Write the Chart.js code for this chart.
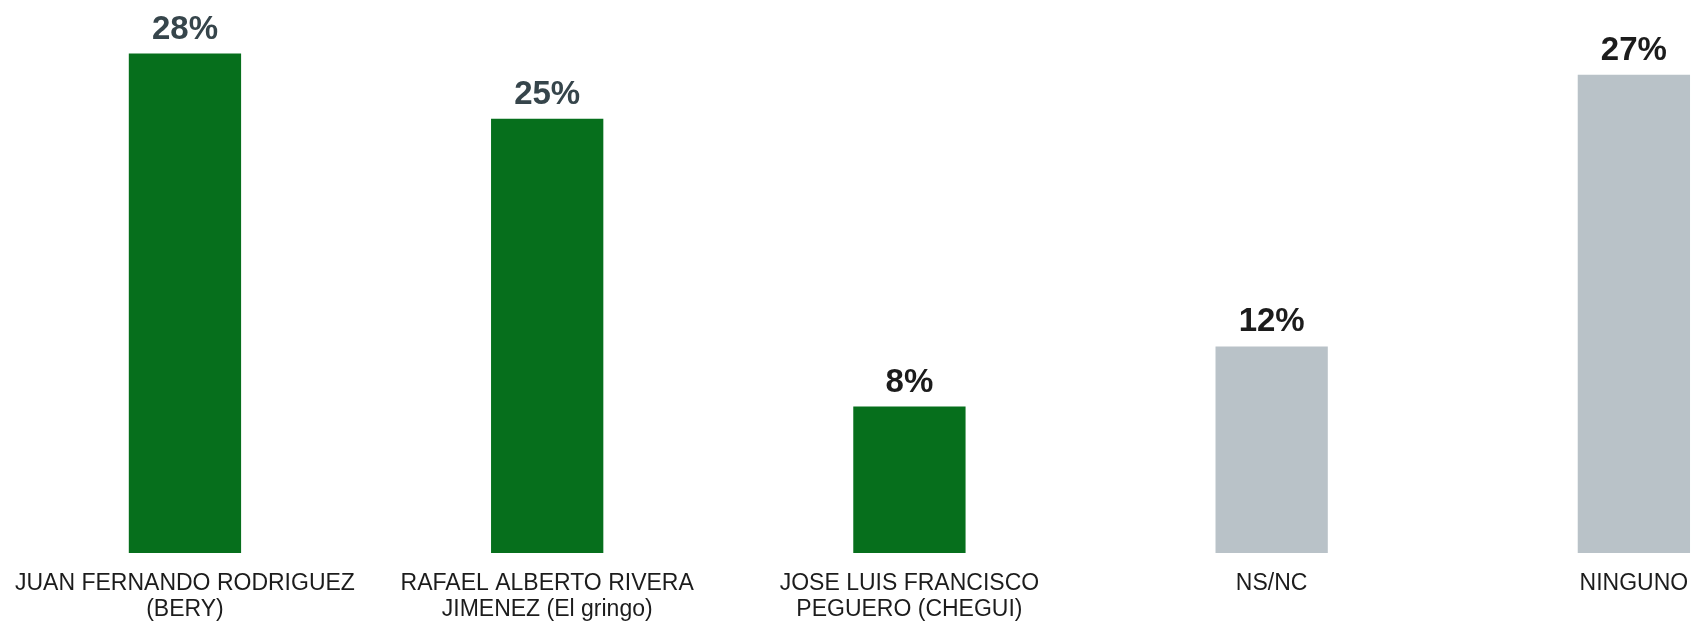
<!DOCTYPE html>
<html>
<head>
<meta charset="utf-8">
<script src="https://cdn.jsdelivr.net/npm/chart.js@4/dist/chart.umd.min.js"></script>
<style>
  html, body { margin: 0; padding: 0; background: #ffffff; overflow: hidden; }
  #wrap { width: 1817px; height: 622px; position: relative; margin-left: -2px; }
</style>
</head>
<body>
<div id="wrap"><canvas id="c"></canvas></div>
<script>
const categories = [
  ["JUAN FERNANDO RODRIGUEZ", "(BERY)"],
  ["RAFAEL ALBERTO RIVERA", "JIMENEZ (El gringo)"],
  ["JOSE LUIS FRANCISCO", "PEGUERO (CHEGUI)"],
  ["NS/NC"],
  ["NINGUNO"]
];
const values = [28.3, 24.6, 8.3, 11.7, 27.1];
const valueLabels = ["28%", "25%", "8%", "12%", "27%"];
const barColors = ["#066f1c", "#066f1c", "#066f1c", "#b9c2c8", "#b9c2c8"];
const labelColors = ["#36454b", "#36454b", "#1c1c1c", "#1c1c1c", "#1c1c1c"];

const FONT = "'Liberation Sans', Arial, Helvetica, sans-serif";

const valueLabelPlugin = {
  id: 'valueLabels',
  afterDatasetsDraw(chart) {
    const ctx = chart.ctx;
    const meta = chart.getDatasetMeta(0);
    ctx.save();
    ctx.font = "bold 33px " + FONT;
    ctx.textAlign = 'center';
    ctx.textBaseline = 'alphabetic';
    meta.data.forEach((bar, i) => {
      ctx.fillStyle = labelColors[i];
      ctx.fillText(valueLabels[i], bar.x, bar.y - 15);
    });
    ctx.restore();
  }
};

new Chart(document.getElementById('c'), {
  type: 'bar',
  data: {
    labels: categories,
    datasets: [{
      data: values,
      backgroundColor: barColors,
      borderWidth: 0,
      barPercentage: 0.31,
      categoryPercentage: 1.0
    }]
  },
  options: {
    responsive: true,
    maintainAspectRatio: false,
    animation: false,
    layout: { padding: { top: 23.5, left: 0, right: 0, bottom: 0 } },
    plugins: {
      legend: { display: false },
      tooltip: { enabled: false }
    },
    scales: {
      x: {
        grid: { display: false, drawTicks: false },
        border: { display: false },
        ticks: {
          autoSkip: false,
          maxRotation: 0,
          minRotation: 0,
          padding: 17,
          color: "#1c1c1c",
          font: { family: FONT, size: 23, lineHeight: 1.15 }
        },
        afterFit(scale) { scale.height = 69; }
      },
      y: {
        display: false,
        min: 0,
        max: 30
      }
    }
  },
  plugins: [valueLabelPlugin]
});
</script>
</body>
</html>
